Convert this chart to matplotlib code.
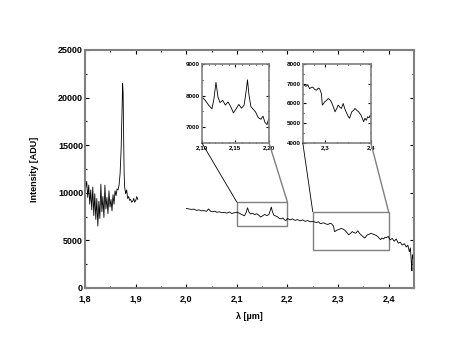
import matplotlib
matplotlib.use("Agg")
import matplotlib.pyplot as plt
from matplotlib.patches import Rectangle, ConnectionPatch
from matplotlib.ticker import MultipleLocator, FuncFormatter

# ── Data ──────────────────────────────────────────────────────────────────────
# H-band piece, 1.80–1.905 µm
lam_h = [1.800, 1.801, 1.803, 1.805, 1.807, 1.809, 1.811, 1.813, 1.815, 1.817,
         1.819, 1.821, 1.823, 1.825, 1.827, 1.829, 1.831, 1.833, 1.835, 1.837,
         1.839, 1.841, 1.843, 1.845, 1.847, 1.849, 1.851, 1.853, 1.855, 1.857,
         1.859, 1.861, 1.863, 1.865, 1.867, 1.869, 1.871, 1.873, 1.874, 1.875,
         1.876, 1.877, 1.878, 1.880, 1.882, 1.884, 1.886, 1.888, 1.890, 1.892,
         1.894, 1.896, 1.898, 1.900, 1.902, 1.904]
int_h = [12800, 10500, 11200, 9500, 10800, 8800, 10300, 8200, 10600, 7600,
         9900, 7200, 9400, 6500, 9100, 7300, 10900, 8000, 9600, 7400,
         10800, 8300, 9500, 7800, 10200, 8500, 9300, 8100, 9800, 8800,
         10200, 9700, 10400, 10300, 10800, 12000, 14500, 19000, 21500, 20500,
         16000, 12000, 10600, 9900, 10300, 9400, 9600, 9200, 9300, 9000,
         9100, 9400, 9000, 9200, 9600, 9300]

# K-band piece, 2.00–2.45 µm
lam_k = [2.000, 2.005, 2.010, 2.015, 2.020, 2.025, 2.030, 2.035, 2.040, 2.044,
         2.048, 2.052, 2.056, 2.060, 2.065, 2.070, 2.075, 2.080, 2.085, 2.090,
         2.095, 2.100, 2.105, 2.110, 2.115, 2.118, 2.121, 2.124, 2.127, 2.131,
         2.135, 2.139, 2.143, 2.147, 2.151, 2.155, 2.159, 2.163, 2.166, 2.168,
         2.170, 2.173, 2.176, 2.180, 2.184, 2.188, 2.191, 2.194, 2.197, 2.200,
         2.205, 2.210, 2.215, 2.220, 2.225, 2.230, 2.235, 2.240, 2.245, 2.250,
         2.254, 2.257, 2.261, 2.265, 2.269, 2.272, 2.276, 2.280, 2.284, 2.287,
         2.291, 2.293, 2.296, 2.298, 2.302, 2.306, 2.310, 2.313, 2.317, 2.321,
         2.325, 2.328, 2.332, 2.335, 2.339, 2.343, 2.347, 2.350, 2.353, 2.356,
         2.358, 2.362, 2.365, 2.369, 2.373, 2.378, 2.381, 2.384, 2.387, 2.390,
         2.393, 2.396, 2.399, 2.403, 2.407, 2.411, 2.415, 2.419, 2.423, 2.427,
         2.431, 2.435, 2.438, 2.441, 2.443, 2.445, 2.446, 2.447, 2.449, 2.450]
int_k = [8350, 8300, 8250, 8280, 8150, 8200, 8100, 8120, 8050, 8300,
         8050, 8000, 8080, 7950, 8000, 7900, 7950, 7850, 7980, 7820,
         7900, 7950, 7850, 7700, 7580, 7900, 8420, 7950, 7780, 7850,
         7700, 7800, 7650, 7450, 7580, 7720, 7600, 7700, 8150, 8500,
         8050, 7650, 7580, 7480, 7300, 7250, 7350, 7150, 7080, 7300,
         7150, 7250, 7100, 7180, 7050, 7150, 7000, 7080, 6950, 7000,
         6920, 6870, 6950, 6750, 6820, 6830, 6720, 6670, 6780, 6750,
         6500, 5920, 6000, 6080, 6150, 6250, 6180, 6080, 5850, 5580,
         5750, 5920, 5800, 5750, 6000, 5700, 5500, 5350, 5250, 5450,
         5580, 5650, 5750, 5650, 5580, 5420, 5250, 5080, 5250, 5150,
         5330, 5280, 5420, 5050, 5200, 4900, 5150, 4700, 4800, 4500,
         4650, 4300, 4500, 3800, 4200, 2600, 1800, 3500, 3000, 4000]

# zoom windows: (x0, x1, y0, y1)
zoom1 = (2.10, 2.20, 6500, 9000)
zoom2 = (2.25, 2.40, 4000, 8000)

plt.rcParams["font.family"] = ["Liberation Sans", "DejaVu Sans"]
plt.rcParams["font.weight"] = "bold"

GRAY = "#808080"


def comma(fmt):
    return FuncFormatter(lambda v, p: (fmt % v).replace(".", ","))


def style(ax, size, lw):
    for s in ax.spines.values():
        s.set_color(GRAY)
        s.set_linewidth(lw)
    ax.tick_params(which="both", direction="in", top=True, right=True,
                   labelsize=size, pad=1.5, width=0.8)
    ax.tick_params(which="major", length=3)
    ax.tick_params(which="minor", length=1.5)


fig = plt.figure(figsize=(4.63, 3.52), dpi=100)
ax = fig.add_axes([0.184, 0.182, 0.710, 0.676])
ax.plot(lam_h, int_h, color="black", lw=0.6)
ax.plot(lam_k, int_k, color="black", lw=0.6)
ax.set_xlim(1.8, 2.45)
ax.set_ylim(0, 25000)
ax.xaxis.set_major_locator(MultipleLocator(0.1))
ax.xaxis.set_minor_locator(MultipleLocator(0.05))
ax.yaxis.set_major_locator(MultipleLocator(5000))
ax.yaxis.set_minor_locator(MultipleLocator(2500))
ax.xaxis.set_major_formatter(comma("%.1f"))
style(ax, 6.5, 1.5)
ax.tick_params(axis="x", pad=5)
ax.set_xlabel("λ [µm]", fontsize=6.5, fontweight="bold", labelpad=6)
ax.set_ylabel("Intensity [ADU]", fontsize=6.5, fontweight="bold", labelpad=14)

insets = [
    (zoom1, [0.436, 0.594, 0.145, 0.224], 0.05, 0.01, 1000, 500, "%.2f"),
    (zoom2, [0.654, 0.594, 0.147, 0.224], 0.1, 0.025, 1000, 500, "%.1f"),
]
for (x0, x1, y0, y1), pos, xmaj, xmin, ymaj, ymin, fmt in insets:
    ax.add_patch(Rectangle((x0, y0), x1 - x0, y1 - y0, fill=False,
                           edgecolor=GRAY, lw=1.0))
    axi = fig.add_axes(pos)
    axi.plot(lam_k, int_k, color="black", lw=0.6)
    axi.set_xlim(x0, x1)
    axi.set_ylim(y0, y1)
    axi.xaxis.set_major_locator(MultipleLocator(xmaj))
    axi.xaxis.set_minor_locator(MultipleLocator(xmin))
    axi.yaxis.set_major_locator(MultipleLocator(ymaj))
    axi.yaxis.set_minor_locator(MultipleLocator(ymin))
    axi.xaxis.set_major_formatter(comma(fmt))
    style(axi, 4.5, 1.2)
    axi.tick_params(which="major", length=2)
    axi.tick_params(which="minor", length=1)
    for xa, xb, col, lw in [(x0, 0, "black", 0.6), (x1, 1, GRAY, 1.0)]:
        con = ConnectionPatch(xyA=(xa, y1), coordsA=ax.transData,
                              xyB=(xb, 0), coordsB=axi.transAxes,
                              color=col, lw=lw)
        fig.add_artist(con)

fig.savefig("out.png", dpi=100)
